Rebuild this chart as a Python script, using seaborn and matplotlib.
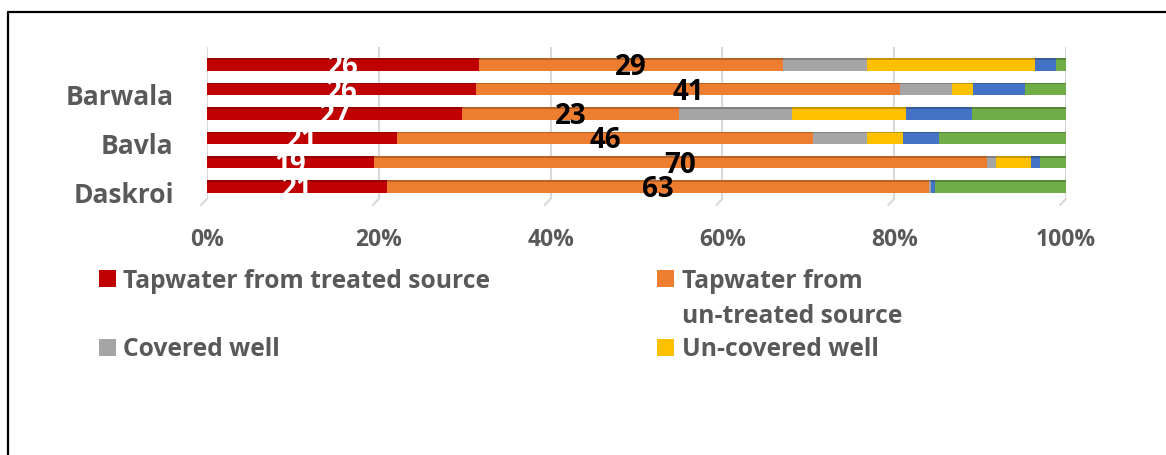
import numpy as np
import pandas as pd
import seaborn as sns
import matplotlib.pyplot as plt
from matplotlib.colors import to_rgb
from matplotlib.lines import Line2D
from matplotlib.patches import Rectangle
from matplotlib.ticker import PercentFormatter
from matplotlib.transforms import ScaledTranslation

# --- data -------------------------------------------------------------
bar_labels = ["", "Barwala", "", "Bavla", "", "Daskroi"]

treated = [26, 26, 27, 21, 19, 21]
untreated = [29, 41, 23, 46, 70, 63]
covered = [8, 5, 12, 6, 1, 0.3]
uncovered = [16, 2, 12, 4, 4, 0]
fifth_src = [2, 5, 7, 4, 1, 0.5]
sixth_src = [1, 4, 10, 14, 3, 15.2]

legend_labels = ["Tapwater from treated source",
                 ["Tapwater from", "un-treated source"],
                 "Covered well",
                 "Un-covered well"]

colors = ["#C00000", "#ED7D31", "#A5A5A5", "#FFC000", "#4472C4", "#70AD47"]
text_grey = "#595959"

# --- styling ----------------------------------------------------------
sns.set_style("white")
plt.rcParams["font.family"] = ["Open Sans", "DejaVu Sans"]
plt.rcParams["font.weight"] = "bold"

W, H = 1166, 456
fig = plt.figure(figsize=(W / 100, H / 100), dpi=100)
fig.patch.set_facecolor("white")

def fx(px):
    return px / W

def fy(py):
    return 1 - py / H

ax = fig.add_axes([fx(207), fy(200), fx(1066) - fx(207), fy(48) - fy(200)])

# --- stacked 100% bars -------------------------------------------------
values = np.array([treated, untreated, covered, uncovered, fifth_src, sixth_src], dtype=float)
shares = values / values.sum(axis=0)
cum = np.cumsum(shares, axis=0)
rows = np.arange(len(bar_labels))

def darker(c, f=0.78):
    r, g, b = to_rgb(c)
    return (r * f, g * f, b * f)

# draw the cumulative totals from the outermost series inward so each
# shorter bar sits on top of the longer ones; a darker strip on the top
# edge of every bar gives the shallow bevelled look
for i in range(len(values) - 1, -1, -1):
    df = pd.DataFrame({"share": cum[i], "row": rows})
    n_before = len(ax.patches)
    sns.barplot(data=df, x="share", y="row", orient="h", color=colors[i],
                saturation=1, width=0.51, linewidth=0, errorbar=None, ax=ax,
                zorder=3)
    for p in list(ax.patches[n_before:]):
        ax.add_patch(Rectangle((p.get_x(), p.get_y()), p.get_width(), 0.07,
                               facecolor=darker(colors[i]), edgecolor="none",
                               zorder=3))

ax.set_xlim(0, 1)
ax.set_ylim(5.51, -0.717)

# value labels for the two tap-water series
for r in rows:
    c0 = cum[0][r] - shares[0][r] / 2
    c1 = cum[1][r] - shares[1][r] / 2
    ax.text(c0, r + 0.09, f"{treated[r]:g}", color="white", fontsize=20,
            fontweight="bold", ha="center", va="center", zorder=5)
    ax.text(c1, r + 0.09, f"{untreated[r]:g}", color="black", fontsize=20,
            fontweight="bold", ha="center", va="center", zorder=5)

# --- axes cosmetics ------------------------------------------------------
ticks = np.linspace(0, 1, 6)
ax.set_xticks(ticks)
ax.xaxis.set_major_formatter(PercentFormatter(1.0, decimals=0))
ax.set_yticks(rows)
ax.set_yticklabels(bar_labels)
ax.set_xlabel("")
ax.set_ylabel("")
ax.tick_params(axis="x", length=0, pad=20, labelsize=16.5, labelcolor=text_grey)
ax.tick_params(axis="y", length=0, pad=24, labelsize=19, labelcolor=text_grey)
for lbl in ax.get_xticklabels() + ax.get_yticklabels():
    lbl.set_fontweight("bold")
for lbl in ax.get_yticklabels():
    lbl.set_transform(lbl.get_transform() + ScaledTranslation(0, -0.045, fig.dpi_scale_trans))
for s in ax.spines.values():
    s.set_visible(False)

ax.grid(axis="x", color="#D9D9D9", linewidth=1.5, zorder=0)
ax.grid(axis="y", visible=False)
ax.set_axisbelow(True)
# slanted feet under each gridline (floor of the chart)
for t in ticks:
    ax.plot([t, t - 6 / 859], [0, -6 / 152], transform=ax.get_xaxis_transform(),
            color="#D9D9D9", linewidth=1.5, clip_on=False, zorder=0)

# --- legend ------------------------------------------------------------
legend_items = [
    (99, 271, 123, [(288, legend_labels[0])], colors[0]),
    (657, 271, 682, [(288, legend_labels[1][0]), (323, legend_labels[1][1])], colors[1]),
    (99, 340, 123, [(356, legend_labels[2])], colors[2]),
    (657, 340, 682, [(356, legend_labels[3])], colors[3]),
]
for mx, my, tx, lines, col in legend_items:
    fig.patches.append(Rectangle((fx(mx), fy(my + 17)), 17 / W, 17 / H,
                                 transform=fig.transFigure, facecolor=col,
                                 edgecolor="none"))
    for by, txt in lines:
        fig.text(fx(tx), fy(by), txt, fontsize=17.7, fontweight="bold",
                 color=text_grey, ha="left", va="baseline")

# --- outer frame -----------------------------------------------------------
fig.add_artist(Line2D([fx(8), fx(8)], [fy(13), 0], transform=fig.transFigure,
                      color="black", linewidth=1.6))
fig.add_artist(Line2D([fx(8), 1], [fy(13), fy(13)], transform=fig.transFigure,
                      color="black", linewidth=1.6))

fig.savefig("out.png", dpi=100, facecolor="white")
